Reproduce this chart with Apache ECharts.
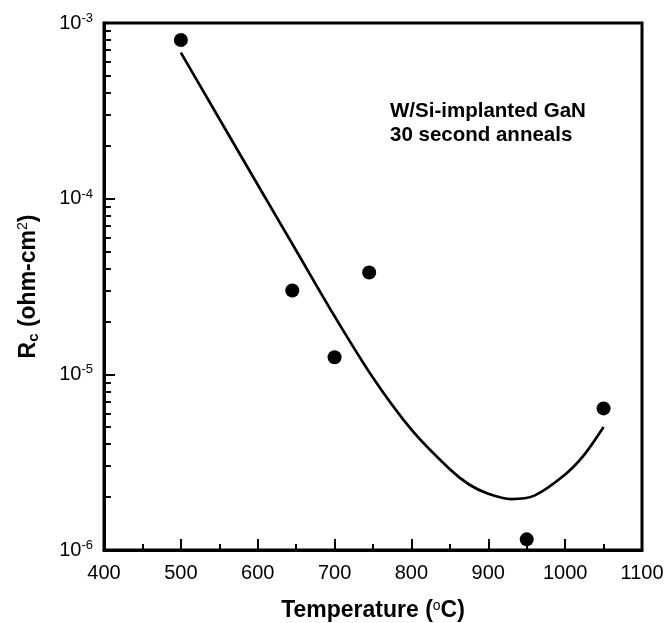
<!DOCTYPE html>
<html><head><meta charset="utf-8">
<script src="https://cdn.jsdelivr.net/npm/echarts@6/dist/echarts.min.js"></script>
<style>html,body{margin:0;padding:0;background:#fff}#c{width:665px;height:623px}</style>
</head><body><div id="c"></div><script>
// measured points
const measuredT = [500, 645, 700, 745, 950, 1050];
const measuredRc = [8.0e-4, 3.0e-5, 1.25e-5, 3.8e-5, 1.15e-6, 6.4e-6];
// fitted curve
const fitT = [500, 550, 600, 650, 700, 750, 800, 850, 875, 900, 930, 960, 1000, 1025, 1050];
const fitRc = [6.78e-4, 2.85e-4, 1.20e-4, 5.07e-5, 2.14e-5, 9.55e-6, 4.84e-6, 2.88e-6, 2.36e-6, 2.09e-6, 1.95e-6, 2.04e-6, 2.69e-6, 3.49e-6, 5.01e-6];
// axes
const xMin = 400, xMax = 1100, xStep = 100;
const yMin = 1e-6, yMax = 1e-3;
const yMinorTicks = [2e-6,3e-6,4e-6,5e-6,6e-6,7e-6,8e-6,9e-6,
                     2e-5,3e-5,4e-5,5e-5,6e-5,7e-5,8e-5,9e-5,
                     2e-4,3e-4,4e-4,5e-4,6e-4,7e-4,8e-4,9e-4];
const minorTickSpan = 9; // tick length expressed in axis units (°C)
const noteLines = ['W/Si-implanted GaN', '30 second anneals'];

const FONT = '"Liberation Sans", Arial, Helvetica, sans-serif';
const chart = echarts.init(document.getElementById('c'), null, {renderer: 'canvas'});
chart.setOption({
  animation: false,
  backgroundColor: '#fff',
  grid: {left: 104, right: 23, top: 23, bottom: 73, show: true, borderColor: '#000', borderWidth: 3, outerBoundsMode: 'none'},
  xAxis: {
    type: 'value', min: xMin, max: xMax, interval: xStep,
    name: '{b|Temperature (}{sup|o}{b|C)}',
    nameLocation: 'middle', nameGap: 50,
    nameTextStyle: {
      rich: {
        b: {fontFamily: FONT, fontWeight: 'bold', fontSize: 23, color: '#000', lineHeight: 22},
        sup: {fontFamily: FONT, fontSize: 14, color: '#000', lineHeight: 12, padding: [0, 0, 10, 0]}
      }
    },
    axisLine: {show: true, lineStyle: {color: '#000', width: 3}},
    axisTick: {show: true, inside: true, length: 11, lineStyle: {color: '#000', width: 2}},
    minorTick: {show: true, splitNumber: 2, length: 6, lineStyle: {color: '#000', width: 2}},
    axisLabel: {fontFamily: FONT, fontSize: 20, color: '#000', margin: 13, formatter: v => String(v)},
    splitLine: {show: false}
  },
  yAxis: {
    type: 'log', logBase: 10, min: yMin, max: yMax,
    name: '{b|R}{sub|c}{b| (ohm-cm}{sup|2}{b|)}',
    nameLocation: 'middle', nameGap: 60,
    nameTextStyle: {
      rich: {
        b: {fontFamily: FONT, fontWeight: 'bold', fontSize: 23, color: '#000', lineHeight: 30},
        sub: {fontFamily: FONT, fontWeight: 'bold', fontSize: 15, color: '#000', lineHeight: 20, padding: [10, 0, 0, 0]},
        sup: {fontFamily: FONT, fontSize: 14, color: '#000', lineHeight: 18, padding: [0, 0, 12, 0]}
      }
    },
    axisLine: {show: true, lineStyle: {color: '#000', width: 3}},
    axisTick: {show: true, inside: true, length: 11, lineStyle: {color: '#000', width: 2}},
    axisLabel: {
      margin: 11,
      formatter: function (v) {
        const e = Math.round(Math.log10(v));
        return '{b|10}{sup|' + e + '}';
      },
      rich: {
        b: {fontFamily: FONT, fontSize: 20, color: '#000', lineHeight: 22},
        sup: {fontFamily: FONT, fontSize: 13, color: '#000', lineHeight: 13, padding: [0, 0, 9, 0]}
      }
    },
    splitLine: {show: false}
  },
  graphic: [{
    type: 'text', left: 390, top: 99,
    style: {text: noteLines.join('\n'), font: 'bold 20.5px ' + FONT, fill: '#000', lineHeight: 24}
  }],
  series: [
    {
      type: 'line', data: fitT.map((t, i) => [t, fitRc[i]]), smooth: 0.3,
      showSymbol: false, symbol: 'none', lineStyle: {color: '#000', width: 2.7},
      markLine: {
        silent: true, animation: false, symbol: 'none',
        label: {show: false},
        lineStyle: {color: '#000', width: 2, type: 'solid', opacity: 1},
        emphasis: {disabled: true},
        data: yMinorTicks.map(v => [{coord: [xMin, v]}, {coord: [xMin + minorTickSpan, v]}])
      }
    },
    {
      type: 'scatter', data: measuredT.map((t, i) => [t, measuredRc[i]]),
      symbol: 'circle', symbolSize: 14, itemStyle: {color: '#000', opacity: 1}
    }
  ]
});
</script></body></html>
